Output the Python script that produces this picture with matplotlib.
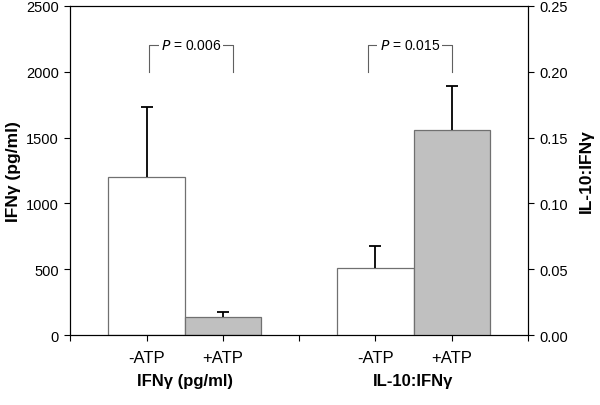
import matplotlib.pyplot as plt

# IFN-gamma (left axis) and IL-10:IFN-gamma ratio (right axis)
labels = ['-ATP', '+ATP', '-ATP', '+ATP']
ifn_mean = [1200, 135]
ifn_err = [530, 40]
ratio_mean = [0.051, 0.156]
ratio_err = [0.017, 0.033]
group_names = ['IFN\u03b3 (pg/ml)', 'IL-10:IFN\u03b3']
p_values = ['0.006', '0.015']

plt.rcParams['font.family'] = ['Liberation Sans', 'DejaVu Sans']

fig = plt.figure(figsize=(6, 4.06), dpi=100)
ax = fig.add_axes([0.117, 0.172, 0.763, 0.811])
ax2 = ax.twinx()

edge = '#707070'
ax.bar([1, 2], ifn_mean, width=1, color=['white', '#c0c0c0'], edgecolor=edge, linewidth=0.9, zorder=2)
ax2.bar([4, 5], ratio_mean, width=1, color=['white', '#c0c0c0'], edgecolor=edge, linewidth=0.9, zorder=2)


def up_err(a, x, m, e):
    # upper half error bar only
    eb = a.errorbar(x, m, yerr=[[0], [e]], color='black', capsize=4.5, elinewidth=1.3, capthick=1.3, zorder=3)
    eb[1][0].set_visible(False)


for x, m, e in zip([1, 2], ifn_mean, ifn_err):
    up_err(ax, x, m, e)
for x, m, e in zip([4, 5], ratio_mean, ratio_err):
    up_err(ax2, x, m, e)

ax.set_xlim(0, 6)
ax.set_ylim(0, 2500)
ax2.set_ylim(0, 0.25)
ax.set_yticks(range(0, 2501, 500))
ax2.set_yticks([0, 0.05, 0.10, 0.15, 0.20, 0.25])
ax2.set_yticklabels(['%.2f' % v for v in ax2.get_yticks()])
ax.set_xticks([1, 2, 4, 5])
ax.set_xticklabels(labels)
ax.set_xticks([0, 3, 6], minor=True)

for a in (ax, ax2):
    a.tick_params(axis='both', which='both', direction='out', length=4, width=0.8, labelsize=10.5, pad=4)
    for s in a.spines.values():
        s.set_linewidth(0.8)
ax.tick_params(axis='x', labelsize=12, pad=7)

ax.set_ylabel('IFN\u03b3 (pg/ml)', fontsize=12.5, fontweight='bold')
ax2.set_ylabel('IL-10:IFN\u03b3', fontsize=12.5, fontweight='bold')
ax.yaxis.set_label_coords(-0.108, 0.5)
ax2.yaxis.set_label_coords(1.111, 0.5)

for cx, name in zip([1.5, 4.5], group_names):
    ax.text(cx, -345, name, ha='center', va='center', fontsize=12, fontweight='bold')

# significance brackets
for (x0, x1), p in zip([(1.03, 2.13), (3.9, 5.0)], p_values):
    ax.plot([x0, x0, x1, x1], [2000, 2200, 2200, 2000], color='#606060', linewidth=0.8)
    ax.text((x0 + x1) / 2, 2200, '$P$ = ' + p, ha='center', va='center', fontsize=10,
            bbox=dict(facecolor='white', edgecolor='none', pad=1.5))

fig.savefig('out.png', dpi=100)
